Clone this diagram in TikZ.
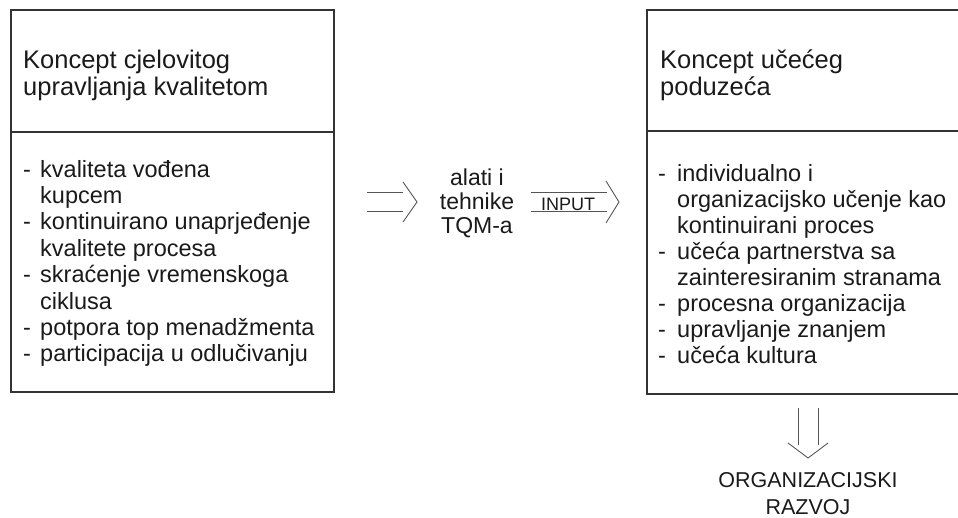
\documentclass[tikz,border=0pt]{standalone}
\usepackage{fontspec}
\setmainfont{Liberation Sans}
\definecolor{ink}{HTML}{1A1A1A}
\definecolor{frame}{HTML}{333333}
\definecolor{arrowc}{HTML}{555555}
\newcommand{\dsh}[1]{\makebox[#1][l]{-}}
\begin{document}
\begin{tikzpicture}[x=1pt,y=-1pt,
  boxst/.style={draw=frame, line width=1.8pt, inner sep=0pt, anchor=north west},
  divider/.style={draw=frame, line width=1.8pt},
  arr/.style={draw=arrowc, line width=0.9pt, line join=miter},
  txt/.style={inner sep=0pt, anchor=base west, text=ink},
  ctxt/.style={inner sep=0pt, anchor=base, text=ink}]
\useasboundingbox (0,0) rectangle (958,517);
% boxes
\node[boxst, minimum width=323pt, minimum height=382pt] (lbox) at (10,9) {};
\node[boxst, minimum width=314pt, minimum height=384pt] (rbox) at (646,9) {};
\draw[divider] (lbox.west |- 0,132) -- (lbox.east |- 0,132);
\draw[divider] (rbox.west |- 0,131) -- (rbox.east |- 0,131);
% headers
\node[txt] (lhead) at (23,68) {\fontsize{25.5}{27.5}\selectfont\begin{tabular}[t]{@{}l@{}}Koncept cjelovitog\\upravljanja kvalitetom\end{tabular}};
\node[txt] (rhead) at (660,68) {\fontsize{25.5}{27.5}\selectfont\begin{tabular}[t]{@{}l@{}}Koncept učećeg\\poduzeća\end{tabular}};
% lists
\node[txt] (llist) at (23,177) {\fontsize{23.5}{26.4}\selectfont\begin{tabular}[t]{@{}l@{}l@{}}
\dsh{17pt}&kvaliteta vođena\\
&kupcem\\
\dsh{17pt}&kontinuirano unaprjeđenje\\
&kvalitete procesa\\
\dsh{17pt}&skraćenje vremenskoga\\
&ciklusa\\
\dsh{17pt}&potpora top menadžmenta\\
\dsh{17pt}&participacija u odlučivanju
\end{tabular}};
\node[txt] (rlist) at (658,181) {\fontsize{23.5}{26}\selectfont\begin{tabular}[t]{@{}l@{}l@{}}
\dsh{19pt}&individualno i\\
&organizacijsko učenje kao\\
&kontinuirani proces\\
\dsh{19pt}&učeća partnerstva sa\\
&zainteresiranim stranama\\
\dsh{19pt}&procesna organizacija\\
\dsh{19pt}&upravljanje znanjem\\
\dsh{19pt}&učeća kultura
\end{tabular}};
% middle
\node[ctxt] (tools) at (477,185) {\fontsize{23}{24}\selectfont\begin{tabular}[t]{@{}c@{}}alati i\\tehnike\\TQM-a\end{tabular}};
\node[ctxt] (input) at (568,210) {\fontsize{18}{20}\selectfont INPUT};
\node[ctxt] (razvoj) at (808,487) {\fontsize{21.5}{27}\selectfont\begin{tabular}[t]{@{}c@{}}ORGANIZACIJSKI\\RAZVOJ\end{tabular}};
% left double arrow
\coordinate (la1) at (367,192); \coordinate (la2) at (403,192);
\coordinate (lb1) at (367,211); \coordinate (lb2) at (403,211);
\coordinate (lh1) at (403,182); \coordinate (lt) at (417,202); \coordinate (lh2) at (403,222);
\draw[arr] (la1) -- (la2);
\draw[arr] (lb1) -- (lb2);
\draw[arr] (lh1) -- (lt) -- (lh2);
% INPUT double arrow
\coordinate (ia1) at (531,192); \coordinate (ia2) at (607,192);
\coordinate (ib1) at (531,211); \coordinate (ib2) at (607,211);
\coordinate (ih1) at (606,181); \coordinate (it) at (619,202); \coordinate (ih2) at (606,223);
\draw[arr] (ia1) -- (ia2);
\draw[arr] (ib1) -- (ib2);
\draw[arr] (ih1) -- (it) -- (ih2);
% down double arrow
\coordinate (da1) at (798,408); \coordinate (da2) at (798,445);
\coordinate (db1) at (818,408); \coordinate (db2) at (818,445);
\coordinate (dh1) at (788,443); \coordinate (dt) at (808,458); \coordinate (dh2) at (828,443);
\draw[arr] (da1) -- (da2);
\draw[arr] (db1) -- (db2);
\draw[arr] (dh1) -- (dt) -- (dh2);
\end{tikzpicture}
\end{document}
